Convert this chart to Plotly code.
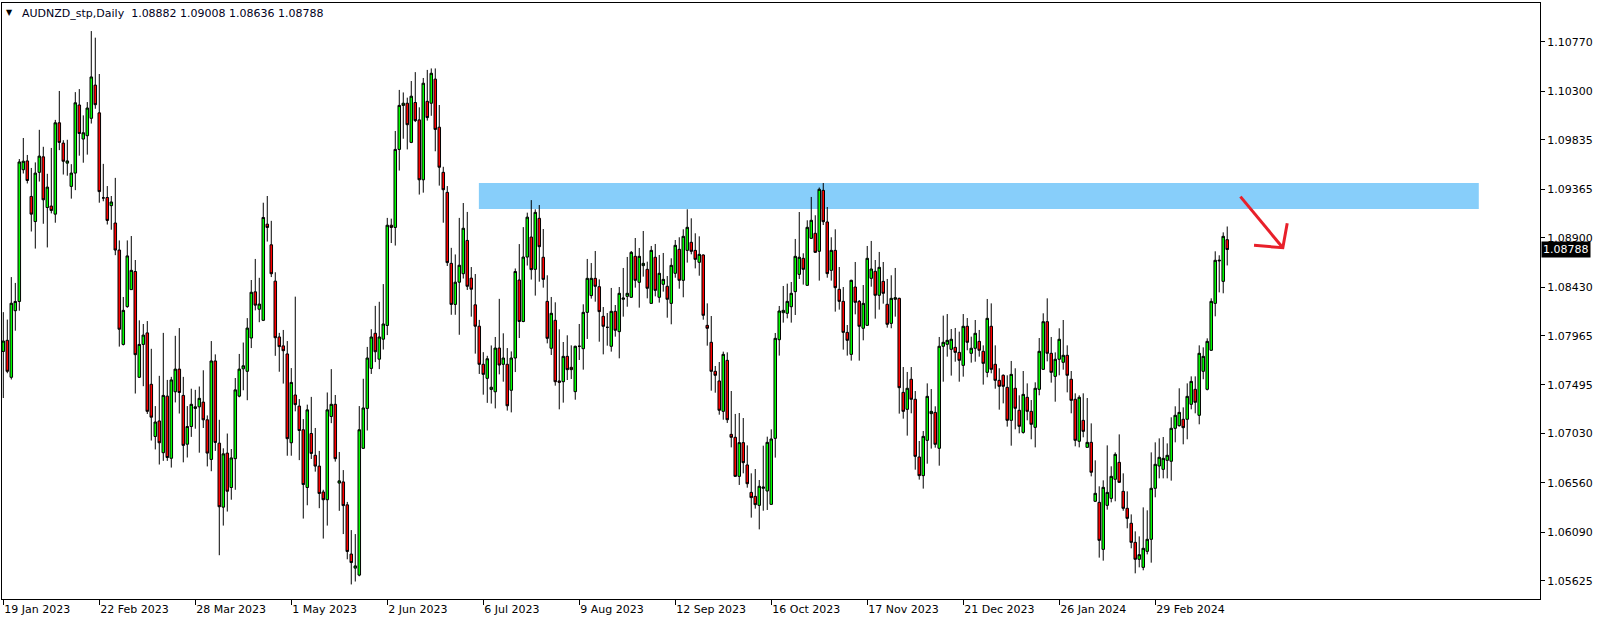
import plotly.graph_objects as go

# ---------------- data ----------------
symbol_title = "AUDNZD_stp,Daily"

opens = [
1.07815,1.07921,1.07568,1.08204,1.08292,1.09550,1.09634,1.09295,1.09055,1.09525,
1.09673,1.09189,1.09203,1.09126,1.09998,1.09804,1.09613,1.09391,1.09518,1.10168,
1.09843,1.09875,1.10041,1.10358,1.10093,1.09281,1.09285,1.09207,1.09041,1.08783,
1.07882,1.08243,1.08405,1.08578,1.07568,1.07882,1.07992,1.07501,1.07003,1.07151,
1.06848,1.07388,1.06795,1.07430,1.07646,1.07395,1.06929,1.07098,1.07271,1.07286,
1.07331,1.07162,1.06784,1.07724,1.06939,1.06328,1.06844,1.06516,1.06791,1.07388,
1.07649,1.07625,1.07943,1.08384,1.08218,1.08112,1.09030,1.08833,1.08486,1.07953,
1.07868,1.07791,1.06943,1.07399,1.07293,1.07067,1.06516,1.07031,1.06823,1.06720,
1.06473,1.06399,1.07194,1.07310,1.06558,1.06569,1.06350,1.05880,1.05746,1.05679,
1.06890,1.07271,1.07653,1.07988,1.07741,1.07932,1.08063,1.09020,1.08999,1.09744,
1.10164,1.10185,1.09811,1.10192,1.10026,1.09454,1.10203,1.10185,1.10415,1.09956,
1.09525,1.09334,1.08656,1.08264,1.08476,1.08557,1.08875,1.08515,1.08260,1.08056,
1.07692,1.07558,1.07452,1.07430,1.07847,1.07692,1.07692,1.07444,1.07752,1.08497,
1.08101,1.08716,1.08907,1.08599,1.09086,1.08714,1.08293,1.07845,1.08112,1.07533,
1.07526,1.07768,1.07663,1.07431,1.07864,1.07841,1.08188,1.08348,1.08513,1.08433,
1.08150,1.08045,1.07864,1.08198,1.08004,1.08313,1.08341,1.08332,1.08723,1.08475,
1.08634,1.08599,1.08274,1.08714,1.08332,1.08456,1.08437,1.08274,1.08561,1.08790,
1.08494,1.08780,1.08857,1.08780,1.08666,1.08736,1.08064,1.07902,1.07625,1.07533,
1.07243,1.07730,1.07023,1.06995,1.06622,1.06944,1.06731,1.06469,1.06431,1.06345,
1.06508,1.06482,1.06355,1.06985,1.07927,1.08185,1.08179,1.08242,1.08386,1.08551,
1.08704,1.08446,1.08895,1.08943,1.08771,1.09353,1.09051,1.08589,1.08780,1.08408,
1.08293,1.07997,1.07787,1.08430,1.08293,1.08036,1.08064,1.08513,1.08580,1.08351,
1.08484,1.08265,1.08083,1.08313,1.08322,1.07424,1.07262,1.07549,1.07358,1.06807,
1.06629,1.06966,1.07221,1.07233,1.06890,1.07864,1.07883,1.07835,1.07854,1.07806,
1.07682,1.08055,1.07797,1.07845,1.07911,1.07816,1.07615,1.08055,1.07692,1.07539,
1.07587,1.07472,1.07157,1.07463,1.07253,1.07042,1.07377,1.07243,1.07090,1.07453,
1.07644,1.08099,1.07797,1.07577,1.07740,1.07711,1.07778,1.07549,1.07358,1.06957,
1.07157,1.06899,1.06947,1.06384,1.06374,1.05925,1.06345,1.06412,1.06594,1.06756,
1.06479,1.06317,1.06174,1.05992,1.05830,1.05753,1.05906,1.06021,1.06508,1.06721,
1.06689,1.06775,1.06766,1.07081,1.07106,1.07167,1.07167,1.07310,1.07453,1.07205,
1.07625,1.07453,1.07826,1.08274,1.08679,1.08484,1.08882]

highs = [
1.08190,1.08119,1.08525,1.08469,1.09652,1.09853,1.09691,1.09567,1.09620,1.09931,
1.09769,1.09511,1.09758,1.10026,1.10302,1.09832,1.09836,1.09603,1.10291,1.10320,
1.10069,1.10196,1.10874,1.10811,1.10464,1.09606,1.09394,1.09299,1.09472,1.08875,
1.08335,1.08875,1.08917,1.08688,1.08112,1.08077,1.08105,1.07840,1.07293,1.07582,
1.07992,1.07543,1.07572,1.07964,1.08038,1.07572,1.07293,1.07459,1.07448,1.07480,
1.07635,1.07204,1.07914,1.07787,1.07162,1.06890,1.07031,1.06883,1.07561,1.07791,
1.07900,1.08133,1.08497,1.08698,1.08518,1.09235,1.09299,1.09062,1.08571,1.07992,
1.08020,1.07914,1.07656,1.08338,1.07360,1.07169,1.07307,1.07381,1.07084,1.06865,
1.06494,1.07423,1.07646,1.07399,1.06855,1.06682,1.06378,1.06109,1.06071,1.07293,
1.07554,1.07858,1.08027,1.08250,1.08289,1.08458,1.09090,1.09083,1.09920,1.10312,
1.10288,1.10238,1.10397,1.10482,1.10146,1.10426,1.10503,1.10517,1.10517,1.10168,
1.09578,1.09394,1.08804,1.08741,1.09090,1.09232,1.09147,1.08621,1.08554,1.08116,
1.07808,1.07773,1.07872,1.07953,1.08317,1.07988,1.07847,1.07815,1.08607,1.08840,
1.09002,1.09140,1.09260,1.09172,1.09213,1.08984,1.08542,1.08335,1.08284,1.08026,
1.07905,1.07969,1.07873,1.07870,1.08077,1.08265,1.08698,1.08659,1.08774,1.08503,
1.08239,1.08182,1.08421,1.08258,1.08430,1.08612,1.08717,1.08774,1.08898,1.08803,
1.08965,1.08672,1.08822,1.08841,1.08736,1.08755,1.08535,1.08704,1.08879,1.08905,
1.08981,1.09172,1.09086,1.08943,1.08914,1.08742,1.08274,1.08153,1.07676,1.07714,
1.07813,1.07806,1.07437,1.07218,1.07227,1.07179,1.06918,1.06651,1.06692,1.06587,
1.06915,1.07001,1.07071,1.07991,1.08249,1.08440,1.08462,1.08478,1.08889,1.09146,
1.08752,1.09067,1.09290,1.09115,1.09380,1.09423,1.09194,1.08905,1.08981,1.08621,
1.08430,1.08067,1.08500,1.08669,1.08306,1.08449,1.08822,1.08870,1.08688,1.08765,
1.08669,1.08507,1.08542,1.08612,1.08328,1.07666,1.07619,1.07666,1.07437,1.06960,
1.07055,1.07510,1.07456,1.07291,1.07953,1.08157,1.08172,1.08029,1.08039,1.08004,
1.08172,1.08134,1.07956,1.08115,1.08020,1.07873,1.08316,1.08274,1.07873,1.07654,
1.07596,1.07587,1.07724,1.07654,1.07396,1.07628,1.07510,1.07351,1.07520,1.07943,
1.08179,1.08322,1.07953,1.07806,1.08036,1.08115,1.07873,1.07628,1.07415,1.07396,
1.07415,1.07370,1.07128,1.06775,1.06527,1.06584,1.06918,1.06718,1.06851,1.07023,
1.06651,1.06479,1.06259,1.06097,1.06049,1.06326,1.06298,1.06851,1.06947,1.06985,
1.06998,1.06937,1.07186,1.07291,1.07463,1.07281,1.07510,1.07577,1.07577,1.07873,
1.07854,1.07940,1.08322,1.08771,1.08733,1.08952,1.09008]

lows = [
1.07370,1.07607,1.07547,1.08013,1.08204,1.09514,1.09419,1.08960,1.08797,1.09437,
1.09034,1.08808,1.09133,1.09044,1.09737,1.09504,1.09493,1.09274,1.09355,1.09684,
1.09617,1.09694,1.09991,1.10132,1.09235,1.09249,1.09027,1.08977,1.08734,1.07861,
1.07872,1.08232,1.08402,1.07413,1.07561,1.07483,1.07218,1.06964,1.06879,1.06735,
1.06770,1.06770,1.06706,1.07328,1.07222,1.06756,1.06802,1.06999,1.07077,1.06848,
1.07084,1.06717,1.06671,1.06865,1.05869,1.06152,1.06286,1.06399,1.06494,1.07377,
1.07444,1.07349,1.07847,1.08207,1.08094,1.08105,1.08864,1.08525,1.07773,1.07621,
1.07508,1.06819,1.06819,1.07243,1.06777,1.06219,1.06346,1.06788,1.06667,1.06318,
1.06028,1.06152,1.07130,1.06763,1.06293,1.06071,1.05830,1.05590,1.05618,1.05668,
1.06883,1.07060,1.07600,1.07713,1.07646,1.07833,1.07971,1.08850,1.08826,1.09542,
1.09846,1.09744,1.09804,1.10005,1.09313,1.09331,1.10019,1.10065,1.09726,1.09398,
1.09044,1.08631,1.08165,1.08165,1.07974,1.08511,1.08402,1.08147,1.07794,1.07600,
1.07402,1.07324,1.07317,1.07271,1.07596,1.07526,1.07250,1.07233,1.07618,1.07943,
1.08094,1.08635,1.08501,1.08348,1.08481,1.08424,1.07892,1.07781,1.07488,1.07262,
1.07326,1.07542,1.07552,1.07354,1.07733,1.07641,1.07934,1.08319,1.08290,1.07908,
1.07787,1.07870,1.07813,1.07956,1.07749,1.08147,1.08242,1.08325,1.08424,1.08233,
1.08529,1.08322,1.08268,1.08341,1.08281,1.08386,1.08137,1.08074,1.08519,1.08414,
1.08332,1.08663,1.08742,1.08608,1.08538,1.08118,1.07870,1.07440,1.07421,1.07211,
1.07163,1.07132,1.06899,1.06616,1.06540,1.06651,1.06514,1.06228,1.06314,1.06116,
1.06294,1.06301,1.06349,1.06801,1.07775,1.08090,1.08131,1.08090,1.08163,1.08507,
1.08453,1.08440,1.08889,1.08755,1.08491,1.09022,1.08519,1.08491,1.08195,1.08214,
1.07832,1.07775,1.07727,1.08169,1.07727,1.07921,1.08058,1.08433,1.08128,1.08214,
1.08271,1.08042,1.08036,1.08147,1.07221,1.07173,1.07011,1.07224,1.06686,1.06591,
1.06505,1.06743,1.06887,1.06896,1.06724,1.07526,1.07765,1.07584,1.07717,1.07526,
1.07574,1.07826,1.07708,1.07717,1.07765,1.07498,1.07568,1.07606,1.07459,1.07259,
1.07319,1.07097,1.06915,1.07071,1.07033,1.07030,1.07157,1.06976,1.06899,1.07396,
1.07638,1.07720,1.07517,1.07335,1.07587,1.07641,1.07424,1.07224,1.06909,1.06899,
1.06995,1.06899,1.06622,1.06377,1.05846,1.05817,1.06304,1.06374,1.06384,1.06559,
1.06294,1.06126,1.05935,1.05696,1.05753,1.05725,1.05877,1.05798,1.06422,1.06603,
1.06603,1.06603,1.06581,1.06947,1.07097,1.06928,1.06976,1.07262,1.07224,1.07119,
1.07549,1.07443,1.07819,1.08150,1.08379,1.08370,1.08636]

closes = [
1.07914,1.07625,1.08275,1.08292,1.09624,1.09631,1.09447,1.09126,1.09518,1.09680,
1.09263,1.09384,1.09161,1.09998,1.09811,1.09631,1.09634,1.09518,1.10189,1.09896,
1.09903,1.10139,1.10436,1.10171,1.09341,1.09281,1.09066,1.09242,1.08783,1.08027,
1.08207,1.08727,1.08589,1.07784,1.07882,1.07971,1.07243,1.07187,1.07141,1.06943,
1.07395,1.06802,1.07543,1.07646,1.07423,1.06918,1.07098,1.07310,1.07286,1.07367,
1.07162,1.06844,1.07724,1.06946,1.06332,1.06837,1.06480,1.06798,1.07448,1.07646,
1.07678,1.08038,1.08380,1.08257,1.08267,1.09094,1.08999,1.08557,1.07946,1.07861,
1.07822,1.06982,1.07519,1.07307,1.07060,1.06544,1.07257,1.06841,1.06720,1.06459,
1.06399,1.07257,1.07310,1.06791,1.06579,1.06343,1.05905,1.05799,1.05767,1.07067,
1.07275,1.07752,1.07953,1.07812,1.07953,1.08077,1.09020,1.08999,1.09744,1.10164,
1.10185,1.09980,1.10252,1.10019,1.09454,1.10376,1.10048,1.10471,1.09935,1.09574,
1.09359,1.08663,1.08264,1.08476,1.08638,1.08991,1.08437,1.08409,1.08056,1.07692,
1.07596,1.07745,1.07473,1.07847,1.07685,1.07752,1.07296,1.07752,1.08578,1.08101,
1.08716,1.09097,1.08596,1.09143,1.08815,1.08503,1.07940,1.08179,1.07526,1.07520,
1.07768,1.07641,1.07641,1.07864,1.07864,1.08188,1.08513,1.08513,1.08437,1.08195,
1.08055,1.08045,1.08198,1.08017,1.08370,1.08325,1.08370,1.08761,1.08494,1.08723,
1.08656,1.08418,1.08780,1.08398,1.08561,1.08503,1.08313,1.08637,1.08828,1.08494,
1.08914,1.09000,1.08771,1.08694,1.08742,1.08160,1.08036,1.07625,1.07587,1.07253,
1.07787,1.07163,1.06995,1.06622,1.06944,1.06753,1.06552,1.06419,1.06352,1.06527,
1.06520,1.06947,1.06979,1.07940,1.08201,1.08207,1.08293,1.08370,1.08723,1.08714,
1.08599,1.09000,1.09067,1.08761,1.09363,1.09054,1.08558,1.08780,1.08424,1.08293,
1.07997,1.07921,1.08494,1.08284,1.08055,1.08274,1.08704,1.08602,1.08351,1.08618,
1.08370,1.08074,1.08322,1.08328,1.07469,1.07243,1.07463,1.07358,1.06813,1.06629,
1.07004,1.07386,1.07243,1.06928,1.07864,1.07902,1.07921,1.07931,1.07806,1.07730,
1.08055,1.07902,1.07845,1.07988,1.07826,1.07701,1.08131,1.07644,1.07539,1.07482,
1.07482,1.07157,1.07596,1.07272,1.07100,1.07405,1.07243,1.07119,1.07463,1.07816,
1.08099,1.07797,1.07615,1.07740,1.07931,1.07778,1.07587,1.07348,1.06966,1.07377,
1.07052,1.06947,1.06661,1.06460,1.06011,1.06517,1.06469,1.06622,1.06832,1.06565,
1.06317,1.06221,1.05992,1.05830,1.05874,1.05935,1.06021,1.06508,1.06737,1.06804,
1.06794,1.06823,1.07081,1.07205,1.07233,1.07087,1.07386,1.07529,1.07329,1.07797,
1.07768,1.07911,1.08293,1.08685,1.08685,1.08914,1.08788]

date_labels = ["19 Jan 2023", "22 Feb 2023", "28 Mar 2023", "1 May 2023", "2 Jun 2023",
               "6 Jul 2023", "9 Aug 2023", "12 Sep 2023", "16 Oct 2023", "17 Nov 2023",
               "21 Dec 2023", "26 Jan 2024", "29 Feb 2024"]
date_label_bars = [0, 24, 48, 72, 96, 120, 144, 168, 192, 216, 240, 264, 288]

price_ticks = [1.10770, 1.10300, 1.09835, 1.09365, 1.08900, 1.08430, 1.07965,
               1.07495, 1.07030, 1.06560, 1.06090, 1.05625]

# resistance zone drawn on the chart (bar index span, price span)
zone_bars = [118.9, 368.9]
zone_prices = [1.09175, 1.09423]

# hand-drawn red arrow (bar index, price)
arrow_shaft_bars = [309.3, 319.9]
arrow_shaft_prices = [1.09293, 1.08805]
arrow_head_bars = [312.7, 319.9, 321.0]
arrow_head_prices = [1.08828, 1.08805, 1.09039]

visible_bars = [-0.325, 384.2]
visible_prices = [1.05451, 1.11142]

# ---------------- figure ----------------
bars = list(range(len(opens)))
FONT = "DejaVu Sans"

fig = go.Figure()
fig.add_trace(go.Candlestick(
    x=bars, open=opens, high=highs, low=lows, close=closes,
    increasing=dict(line=dict(color="black", width=1), fillcolor="#00FF00"),
    decreasing=dict(line=dict(color="black", width=1), fillcolor="#FF0000"),
    whiskerwidth=0, hoverinfo="skip", showlegend=False,
))

fig.add_shape(type="rect", xref="x", yref="y",
              x0=zone_bars[0], x1=zone_bars[1], y0=zone_prices[0], y1=zone_prices[1],
              fillcolor="#87CEFA", line=dict(width=0), layer="below")

def path_of(xs, ys):
    return "M " + " L ".join(f"{a},{b}" for a, b in zip(xs, ys))

fig.add_shape(type="path", xref="x", yref="y",
              path=path_of(arrow_shaft_bars, arrow_shaft_prices),
              line=dict(color="#E8202A", width=3))
fig.add_shape(type="path", xref="x", yref="y",
              path=path_of(arrow_head_bars, arrow_head_prices),
              line=dict(color="#E8202A", width=3))

# header
header = (symbol_title + "\u00a0\u00a0" +
          " ".join(f"{v:.5f}" for v in (opens[-1], highs[-1], lows[-1], closes[-1])))
fig.add_annotation(xref="paper", yref="paper", x=0, y=1, xanchor="left", yanchor="top",
                   xshift=2, yshift=-3, text="\u25BC", showarrow=False,
                   font=dict(family=FONT, size=8, color="black"))
fig.add_annotation(xref="paper", yref="paper", x=0, y=1, xanchor="left", yanchor="top",
                   xshift=18, yshift=-2, text=header, showarrow=False,
                   font=dict(family=FONT, size=11, color="#000020"))

# current price label
fig.add_annotation(xref="paper", yref="y", x=1, y=closes[-1], xanchor="left", yanchor="middle",
                   xshift=1, text=f"{closes[-1]:.5f}", showarrow=False,
                   bgcolor="black", borderpad=1,
                   font=dict(family=FONT, size=11, color="white"))

fig.update_layout(
    width=1604, height=623,
    margin=dict(l=2, r=64, t=3, b=24, pad=0),
    paper_bgcolor="white", plot_bgcolor="white",
    font=dict(family=FONT, size=11, color="black"),
    showlegend=False,
    boxgap=0.1,
    xaxis=dict(range=visible_bars, showgrid=False, zeroline=False,
               showline=True, linecolor="black", linewidth=1, mirror=True,
               ticks="outside", ticklen=5, tickcolor="black",
               tickvals=date_label_bars, ticktext=date_labels,
               ticklabelposition="outside right",
               rangeslider=dict(visible=False), fixedrange=True),
    yaxis=dict(range=visible_prices, side="right", showgrid=False, zeroline=False,
               showline=True, linecolor="black", linewidth=1, mirror=True,
               ticks="outside", ticklen=4, tickcolor="black",
               tickvals=price_ticks, ticktext=[f"{v:.5f}" for v in price_ticks],
               fixedrange=True),
)

fig.write_html("out.html", config={"displayModeBar": False},
               post_script="document.body.style.margin='0px';document.body.style.overflow='hidden';")
